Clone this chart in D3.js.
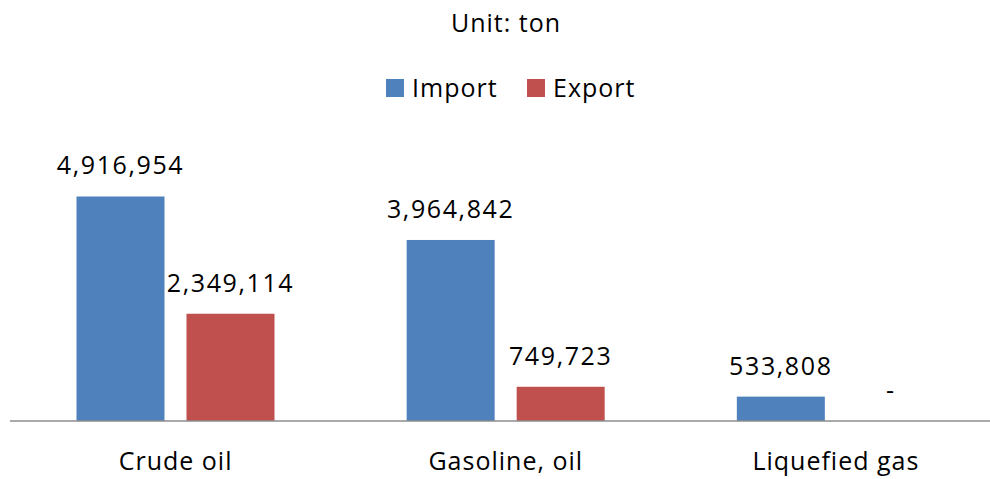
<!DOCTYPE html>
<html lang="en">
<head>
    <title>Import / Export</title>
    <script src="https://d3js.org/d3.v7.min.js"></script>
    <style>
        body { margin: 0; background: #fff; }
        text { font-family: "Open Sans", sans-serif; fill: #000; letter-spacing: 1px; }
    </style>
</head>
<body>

<script>
    const categories = ["Crude oil", "Gasoline, oil", "Liquefied gas"];
    const series = ["Import", "Export"];
    const importValues = [4916954, 3964842, 533808];
    const exportValues = [2349114, 749723, 0];
    const colors = ["#4f81bd", "#c0504d"];

    const width = 990, height = 479;
    const baseY = 421;

    const svg = d3.select("body").append("svg")
            .attr("width", width).attr("height", height);

    const x0 = d3.scaleBand()
            .domain(categories)
            .range([10.5, 1001]);

    const x1 = d3.scaleBand()
            .domain(series)
            .range([66, 264])
            .paddingInner(0.2);

    const y = d3.scaleLinear()
            .domain([0, 5000000])
            .range([baseY, baseY - 228.3]);

    const color = d3.scaleOrdinal().domain(series).range(colors);

    const rows = categories.map((c, i) => ({
        cat: c,
        vals: [
            {s: "Import", v: importValues[i]},
            {s: "Export", v: exportValues[i]}
        ]
    }));

    // title
    svg.append("text")
            .attr("x", 506).attr("y", 32)
            .attr("text-anchor", "middle")
            .style("font-size", "25px")
            .text("Unit: ton");

    // legend
    const legend = svg.append("g");
    const legendX = [386, 527];
    series.forEach((s, i) => {
        legend.append("rect")
                .attr("x", legendX[i]).attr("y", 79)
                .attr("width", 18).attr("height", 18)
                .attr("fill", color(s));
        legend.append("text")
                .attr("x", legendX[i] + 26).attr("y", 97)
                .style("font-size", "25px")
                .text(s);
    });

    const groups = svg.selectAll(".grp")
            .data(rows).enter()
            .append("g")
            .attr("transform", d => `translate(${x0(d.cat)},0)`);

    groups.selectAll("rect")
            .data(d => d.vals).enter()
            .append("rect")
            .attr("x", d => x1(d.s))
            .attr("width", x1.bandwidth())
            .attr("y", d => y(d.v))
            .attr("height", d => baseY - y(d.v))
            .attr("fill", d => color(d.s));

    groups.selectAll(".lbl")
            .data(d => d.vals).enter()
            .append("text")
            .attr("x", d => x1(d.s) + x1.bandwidth() / 2)
            .attr("y", d => y(d.v) - 22)
            .attr("text-anchor", "middle")
            .style("font-size", "25px")
            .style("letter-spacing", "1.6px")
            .text(d => d.v === 0 ? "-" : d3.format(",")(d.v));

    // axis
    const axis = svg.append("g")
            .attr("transform", `translate(0,${baseY})`)
            .call(d3.axisBottom(x0).tickSize(0).tickPadding(0));
    axis.select(".domain")
            .attr("d", `M10,0H${width}`)
            .attr("stroke", "#8c8c8c")
            .attr("stroke-width", 1.5);
    axis.selectAll(".tick text")
            .attr("y", 49)
            .attr("dy", 0)
            .style("font-size", "25px")
            .style("font-family", "'Open Sans', sans-serif")
            .style("letter-spacing", "1px")
            .attr("fill", "#000");
</script>

</body>
</html>
